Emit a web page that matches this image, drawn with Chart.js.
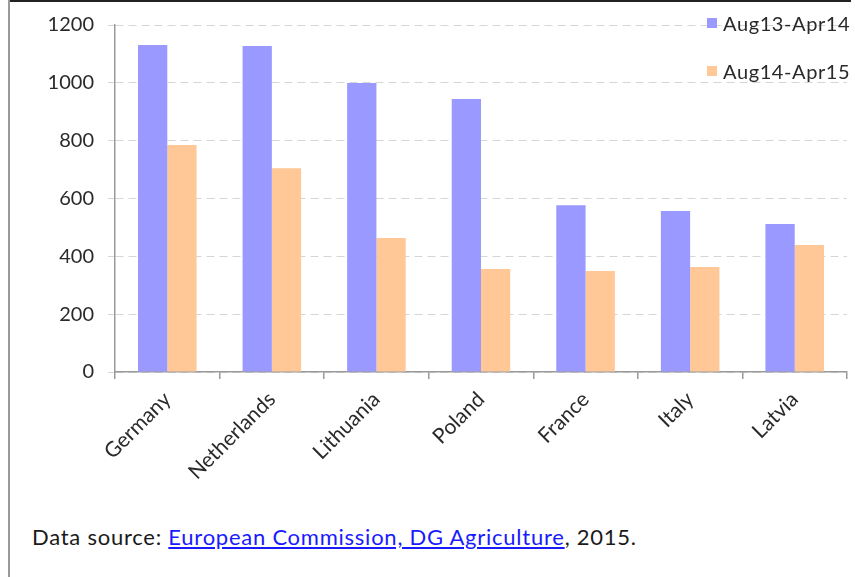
<!DOCTYPE html>
<html>
<head>
<meta charset="utf-8">
<script src="https://cdn.jsdelivr.net/npm/chart.js@4.4.1/dist/chart.umd.min.js"></script>
<style>
  html, body { margin: 0; padding: 0; background: #fff; }
  body { width: 855px; height: 577px; position: relative; overflow: hidden; font-family: Lato, "Open Sans", sans-serif; }
  .frame-top { position: absolute; left: 8px; top: 0; width: 843px; height: 2px; background: #222; }
  .frame-left { position: absolute; left: 8px; top: 0; width: 2px; height: 577px; background: #9a9a9a; }
  .chart-box { position: absolute; left: 12px; top: -1px; width: 843px; height: 500px; }
  .legend { position: absolute; left: 707px; top: 11px; font-size: 20px; letter-spacing: 0.6px; color: #2a2a2a; }
  .legend .item { height: 48px; display: flex; align-items: flex-start; line-height: 24px; }
  .legend .swatch { width: 10px; height: 10px; margin: 7px 6px 0 0; }
  .source { position: absolute; left: 32px; top: 523px; font-size: 22px; letter-spacing: 0.75px; color: #1a1a1a; }
  .source a { color: #1a1aff; text-decoration: underline; }
</style>
</head>
<body>
<div class="chart-box"><canvas id="barChart"></canvas></div>
<div class="frame-top"></div>
<div class="frame-left"></div>
<div class="legend" id="legend"></div>
<div class="source">Data source: <a href="#">European Commission, DG Agriculture</a>, 2015.</div>

<script>
// Chart data
const countries = ["Germany", "Netherlands", "Lithuania", "Poland", "France", "Italy", "Latvia"];
const seriesLabels = ["Aug13-Apr14", "Aug14-Apr15"];
const period1 = [1131, 1127, 999, 944, 577, 557, 512];
const period2 = [785, 705, 463, 356, 349, 363, 439];
const yTicks = [0, 200, 400, 600, 800, 1000, 1200];

const colors = ['#9999ff', '#ffc896'];

// HTML legend from the series labels
const legendEl = document.getElementById('legend');
seriesLabels.forEach(function(label, i) {
  const item = document.createElement('div');
  item.className = 'item';
  item.innerHTML = '<span class="swatch" style="background:' + colors[i] + '"></span><span>' + label + '</span>';
  legendEl.appendChild(item);
});

const tickFont = { family: 'Lato', size: 21 };

const ctx = document.getElementById('barChart').getContext('2d');
new Chart(ctx, {
  type: 'bar',
  data: {
    labels: countries,
    datasets: [
      { label: seriesLabels[0], data: period1, backgroundColor: colors[0] },
      { label: seriesLabels[1], data: period2, backgroundColor: colors[1] }
    ]
  },
  options: {
    responsive: true,
    maintainAspectRatio: false,
    animation: false,
    categoryPercentage: 0.56,
    barPercentage: 1.0,
    layout: { padding: { top: 16, right: 8, left: 0, bottom: 0 } },
    plugins: {
      legend: { display: false },
      tooltip: { enabled: false }
    },
    scales: {
      y: {
        min: 0,
        max: 1200,
        afterBuildTicks: function(scale) {
          scale.ticks = yTicks.map(function(v) { return { value: v }; });
        },
        afterFit: function(scale) { scale.width = 103; },
        grid: {
          color: '#d6d6d6',
          lineWidth: 1,
          tickLength: 7
        },
        border: { display: true, color: '#9a9a9a', width: 1.5, dash: [8, 5] },
        ticks: {
          color: '#2a2a2a',
          font: { family: 'Lato', size: 20 },
          padding: 14,
          callback: function(v) { return String(v); }
        }
      },
      x: {
        afterFit: function(scale) { scale.height = 127; },
        grid: {
          offset: true,
          drawOnChartArea: false,
          drawTicks: true,
          tickLength: 7,
          color: '#9a9a9a',
          lineWidth: 1.5
        },
        border: { display: true, color: '#9a9a9a', width: 1.5 },
        ticks: {
          color: '#2a2a2a',
          font: tickFont,
          minRotation: 45,
          maxRotation: 45,
          padding: 8
        }
      }
    }
  }
});
</script>
</body>
</html>
